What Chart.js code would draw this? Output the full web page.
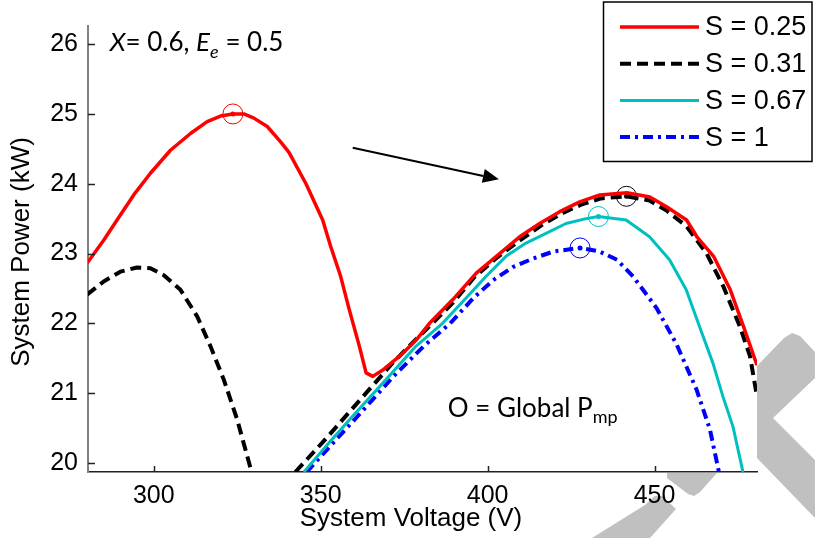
<!DOCTYPE html>
<html><head><meta charset="utf-8">
<script src="https://cdn.jsdelivr.net/npm/chart.js@4/dist/chart.umd.min.js"></script>
<style>html,body{margin:0;padding:0;background:#fff;}canvas{display:block}</style>
</head><body>
<canvas id="c" width="815" height="538"></canvas>
<script>
// ---- data ----
const seriesLabels = ['S = 0.25', 'S = 0.31', 'S = 0.67', 'S = 1'];
const s025V = [280,285,289,294,299,305,311,316,320,323.7,327,330,334,338,340.5,345.6,350.6,353,356,358.6,361.6,363.6,365.6,368.6,374.6,378.6,382.6,389.6,396.6,403.6,409.6,415.6,421.6,427.6,433.6,441.7,448.6,453.6,459.6,462.7,467.7,472.7,476.7,480.7];
const s025P = [22.86,23.19,23.48,23.84,24.15,24.48,24.72,24.89,24.97,25.0,25.0,24.94,24.82,24.6,24.45,24.0,23.48,23.1,22.67,22.19,21.67,21.29,21.24,21.33,21.57,21.76,22.0,22.34,22.72,23.0,23.24,23.43,23.6,23.74,23.84,23.87,23.81,23.67,23.48,23.24,22.96,22.48,21.95,21.4];
const s031V = [280,285,290,295,299,303,308,313,317,321,325,329.3,335,342.4,350.5,357.5,364.5,371.5,377.5,383.5,389.5,396,403,410,416,422,428,434,441.6,448.5,453.5,459.6,465.6,470.6,475.6,478.6,480.7];
const s031P = [22.41,22.6,22.74,22.8,22.79,22.69,22.48,22.1,21.67,21.19,20.62,19.87,null,19.87,20.29,20.67,21.05,21.43,21.72,22.0,22.29,22.66,22.95,23.2,23.4,23.57,23.7,23.79,23.82,23.76,23.62,23.39,23.0,22.53,21.95,21.53,20.95];
const s067V = [345,352.5,360.5,369.5,378.5,386.5,393.5,399.5,405.5,411.5,417.5,423.5,429.5,433.2,441.5,448.5,454.5,459.5,463.5,467.5,470.5,473.5,476.5];
const s067P = [19.87,20.29,20.72,21.19,21.67,22.0,22.36,22.67,22.96,23.15,23.29,23.43,23.5,23.53,23.48,23.24,22.91,22.48,21.95,21.43,20.95,20.52,19.87];
const s100V = [345.8,353.8,362.8,371.8,380.8,388.8,395.7,401.7,407.7,413.7,419.8,427.7,433.5,438.8,443.6,450.6,456.6,462.6,466.6,469.3];
const s100P = [19.87,20.29,20.76,21.24,21.67,22.0,22.36,22.62,22.81,22.93,23.03,23.08,23.03,22.91,22.67,22.22,21.7,21.05,20.48,19.87];
const peakV = [323.7, 441.6, 433.2, 427.7];
const peakP = [25.0, 23.82, 23.53, 23.08];
const xTicks = [300, 350, 400, 450];
const yTicks = [20, 21, 22, 23, 24, 25, 26];
const xRange = [280.3, 480.7];
const yRange = [19.87, 26.26];
const arrowFrom = [359.6, 24.515];
const arrowTo = [403.4, 24.064];
const noteA = {x: 286.8, y: 25.9};
const noteB = {x: 388.1, y: 20.66};

const colors = ['#ff0000', '#000000', '#00bfbf', '#0000ff'];
const toXY = (v, p) => v.map((x, i) => ({x: x, y: p[i]}));

const lineDs = (i, v, p, extra) => Object.assign({
  label: seriesLabels[i], data: toXY(v, p), borderColor: colors[i],
  backgroundColor: colors[i], pointRadius: 0, tension: 0, fill: false,
  spanGaps: false, clip: 0, borderJoinStyle: 'round', borderCapStyle: 'butt'
}, extra);

const datasets = [
  lineDs(0, s025V, s025P, {borderWidth: 3.5}),
  lineDs(1, s031V, s031P, {borderWidth: 4, borderDash: [11, 6]}),
  lineDs(2, s067V, s067P, {borderWidth: 3}),
  lineDs(3, s100V, s100P, {borderWidth: 4, borderDash: [10, 5, 3, 5]}),
  {label: 'peaks', type: 'scatter', data: toXY(peakV, peakP), pointRadius: 10, pointHoverRadius: 10,
   pointBorderWidth: 1, pointBorderColor: colors, pointBackgroundColor: 'rgba(0,0,0,0)', showLine: false, clip: false},
  {label: 'peakDots', type: 'scatter', data: toXY(peakV, peakP), pointRadius: 2.5, pointBorderWidth: 0,
   pointBackgroundColor: colors, pointBorderColor: colors, showLine: false, clip: false}
];

const sansFont = '"Liberation Sans", Arial, sans-serif';
const noteFont = 'Lato, "Open Sans", sans-serif';

function drawRich(ctx, x, y, parts, size) {
  let cx = x;
  parts.forEach(p => {
    const s = p.sub ? Math.round(size * 0.68) : size;
    ctx.font = (p.italic ? 'italic ' : '') + s + 'px ' + noteFont;
    ctx.fillText(p.t, cx, y + (p.sub ? size * 0.25 : 0));
    cx += ctx.measureText(p.t).width;
  });
}

const decor = {
  id: 'decor',
  beforeDraw(chart) {
    const ctx = chart.ctx, a = chart.chartArea;
    ctx.save();
    ctx.fillStyle = '#ffffff';
    ctx.fillRect(0, 0, chart.width, chart.height);
    // faint watermark shapes (partially hidden behind the plot)
    ctx.fillStyle = '#c0c0c0';
    const polys = [
      [[757,366],[784,338],[792,333],[800,336],[815,352],[815,378],[773,418],[815,460],[815,518],[757,458]],
      [[667,473],[717,473],[700,492],[694,496],[688,494],[667,478]],
      [[645,505],[655,496],[662,496],[676,509],[650,538],[592,538]]
    ];
    polys.forEach(pl => {
      ctx.beginPath();
      pl.forEach((pt, i) => i ? ctx.lineTo(pt[0], pt[1]) : ctx.moveTo(pt[0], pt[1]));
      ctx.closePath(); ctx.fill();
    });
    ctx.fillStyle = '#ffffff';
    ctx.fillRect(a.left, a.top, a.right - a.left, a.bottom - a.top);
    ctx.restore();
  },
  afterDatasetsDraw(chart) {
    const ctx = chart.ctx, a = chart.chartArea;
    const xs = chart.scales.x, ys = chart.scales.y;
    ctx.save();
    // inward tick marks
    ctx.strokeStyle = '#222'; ctx.lineWidth = 1.5; ctx.setLineDash([]);
    yTicks.forEach(v => {
      const py = Math.round(ys.getPixelForValue(v)) + 0.5;
      ctx.beginPath(); ctx.moveTo(a.left, py); ctx.lineTo(a.left + 7, py); ctx.stroke();
    });
    xTicks.forEach(v => {
      const px = Math.round(xs.getPixelForValue(v)) + 0.5;
      ctx.beginPath(); ctx.moveTo(px, a.bottom); ctx.lineTo(px, a.bottom - 6); ctx.stroke();
    });
    // arrow
    const x1 = xs.getPixelForValue(arrowFrom[0]), y1 = ys.getPixelForValue(arrowFrom[1]);
    const x2 = xs.getPixelForValue(arrowTo[0]), y2 = ys.getPixelForValue(arrowTo[1]);
    const ang = Math.atan2(y2 - y1, x2 - x1), hl = 16, hw = 7;
    const bx = x2 - hl * Math.cos(ang), by = y2 - hl * Math.sin(ang);
    ctx.strokeStyle = '#000'; ctx.fillStyle = '#000'; ctx.lineWidth = 2;
    ctx.beginPath(); ctx.moveTo(x1, y1); ctx.lineTo(bx, by); ctx.stroke();
    ctx.beginPath(); ctx.moveTo(x2, y2);
    ctx.lineTo(bx + hw * Math.sin(ang), by - hw * Math.cos(ang));
    ctx.lineTo(bx - hw * Math.sin(ang), by + hw * Math.cos(ang));
    ctx.closePath(); ctx.fill();
    // annotations
    ctx.fillStyle = '#000'; ctx.textBaseline = 'alphabetic'; ctx.textAlign = 'left';
    drawRich(ctx, xs.getPixelForValue(noteA.x), ys.getPixelForValue(noteA.y),
      [{t: 'X', italic: true}, {t: '= 0.6, '}, {t: 'E', italic: true}, {t: 'e', italic: true, sub: true}, {t: ' = 0.5'}], 26);
    drawRich(ctx, xs.getPixelForValue(noteB.x), ys.getPixelForValue(noteB.y),
      [{t: 'O = Global P'}, {t: 'mp', sub: true}], 26);
    // legend
    const lb = {l: 603.5, t: 2, r: 812, b: 161.5};
    ctx.fillStyle = '#fff'; ctx.fillRect(lb.l, lb.t, lb.r - lb.l, lb.b - lb.t);
    ctx.strokeStyle = '#000'; ctx.lineWidth = 1.5;
    ctx.strokeRect(lb.l, lb.t, lb.r - lb.l, lb.b - lb.t);
    chart.data.datasets.slice(0, 4).forEach((ds, i) => {
      const ly = 27 + i * 36.7;
      ctx.strokeStyle = ds.borderColor; ctx.lineWidth = ds.borderWidth;
      ctx.setLineDash(ds.borderDash || []);
      ctx.beginPath(); ctx.moveTo(620, ly); ctx.lineTo(699, ly); ctx.stroke();
      ctx.setLineDash([]);
      ctx.fillStyle = '#000'; ctx.font = '27px ' + sansFont; ctx.textBaseline = 'middle';
      ctx.fillText(ds.label, 705, ly + 1);
    });
    // axis titles
    ctx.fillStyle = '#000'; ctx.font = '26px ' + sansFont; ctx.textAlign = 'center'; ctx.textBaseline = 'middle';
    ctx.fillText('System Voltage (V)', 411, 519);
    ctx.translate(22, 252); ctx.rotate(-Math.PI / 2);
    ctx.fillText('System Power (kW)', 0, 0);
    ctx.restore();
  }
};

new Chart(document.getElementById('c'), {
  type: 'line',
  data: {datasets: datasets},
  plugins: [decor],
  options: {
    responsive: false, animation: false, devicePixelRatio: 1,
    layout: {padding: {top: 26, right: 58, left: 0, bottom: 0}},
    plugins: {legend: {display: false}, tooltip: {enabled: false}},
    scales: {
      x: {
        type: 'linear', min: xRange[0], max: xRange[1],
        afterBuildTicks: s => { s.ticks = xTicks.map(v => ({value: v})); },
        afterFit: s => { s.height = 66; },
        grid: {display: false, drawTicks: false},
        border: {display: true, color: '#222', width: 1.5},
        ticks: {color: '#000', padding: 9, maxRotation: 0, font: {family: sansFont, size: 25}}
      },
      y: {
        type: 'linear', min: yRange[0], max: yRange[1],
        afterBuildTicks: s => { s.ticks = yTicks.map(v => ({value: v})); },
        afterFit: s => { s.width = 88; },
        grid: {display: false, drawTicks: false},
        border: {display: true, color: '#808080', width: 2},
        ticks: {color: '#000', padding: 10, font: {family: sansFont, size: 25}}
      }
    }
  }
});
</script>
</body></html>
